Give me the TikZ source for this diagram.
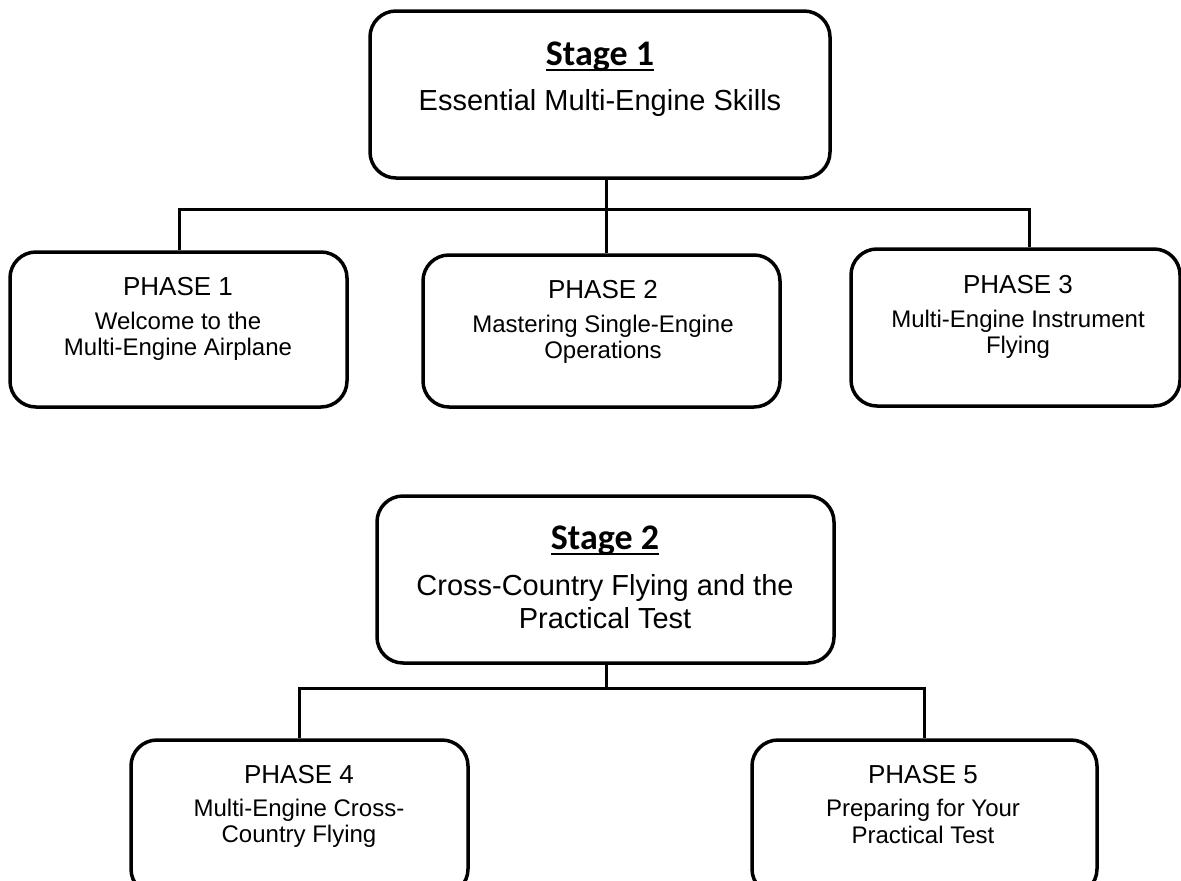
\documentclass[tikz,border=0pt]{standalone}
\usepackage{fontspec}
\setmainfont{Liberation Sans}
\newfontfamily\carlito{Carlito}
\begin{document}
\begin{tikzpicture}[x=1pt,y=-1pt,
  box/.style={draw=black,line width=3.5pt,rounded corners=26pt,inner sep=0pt,fill=white},
  conn/.style={draw=black,line width=3pt},
  title/.style={inner sep=0pt,anchor=base,font=\carlito\bfseries\fontsize{36}{40}\selectfont},
  sub/.style={inner sep=0pt,anchor=base,font=\fontsize{29}{33}\selectfont},
  plabel/.style={inner sep=0pt,anchor=base,font=\fontsize{26}{30}\selectfont},
  psub/.style={inner sep=0pt,anchor=base,font=\fontsize{24}{28}\selectfont},
  uline/.style={line width=2.5pt}]
\useasboundingbox (0,0) rectangle (1181,881);
\clip (0,0) rectangle (1181,881);
% Stage 1
\node[box,minimum width=460pt,minimum height=167pt] (s1) at (600,94.5) {};
\node[title] (s1t) at (600,65) {Stage 1};
\draw[uline] ([yshift=-5pt]s1t.base west) -- ([yshift=-5pt]s1t.base east);
\node[sub] (s1s) at (600,110) {Essential Multi-Engine Skills};
% Phases 1-3
\node[box,minimum width=337pt,minimum height=155pt] (p1) at (178.5,329.5) {};
\node[box,minimum width=357pt,minimum height=152pt] (p2) at (601.5,331) {};
\node[box,minimum width=329pt,minimum height=157pt] (p3) at (1015.5,327.5) {};
\node[plabel] (p1a) at (178,295) {PHASE 1};
\node[psub] (p1b) at (178,329) {Welcome to the};
\node[psub] (p1c) at (178,355) {Multi-Engine Airplane};
\node[plabel] (p2a) at (603,298) {PHASE 2};
\node[psub] (p2b) at (603,332) {Mastering Single-Engine};
\node[psub] (p2c) at (603,358) {Operations};
\node[plabel] (p3a) at (1018,293) {PHASE 3};
\node[psub] (p3b) at (1018,327) {Multi-Engine Instrument};
\node[psub] (p3c) at (1018,353) {Flying};
% connectors stage 1
\coordinate (j1) at (606,209);
\coordinate (bl1) at (179,209);
\coordinate (br1) at (1029,209);
\draw[conn] (s1.south -| j1) -- (j1);
\draw[conn] (p1.north -| bl1) -- (bl1) -- (br1) -- (br1 |- p3.north);
\draw[conn] (j1) -- (j1 |- p2.north);
% Stage 2
\node[box,minimum width=457pt,minimum height=167pt] (s2) at (605.5,579.5) {};
\node[title] (s2t) at (605,549) {Stage 2};
\draw[uline] ([yshift=-5pt]s2t.base west) -- ([yshift=-5pt]s2t.base east);
\node[sub] (s2s) at (605,595) {Cross-Country Flying and the};
\node[sub] (s2u) at (605,628) {Practical Test};
% Phases 4-5
\node[box,minimum width=337pt,minimum height=155pt] (p4) at (299.5,817.5) {};
\node[box,minimum width=345pt,minimum height=155pt] (p5) at (924.5,817.5) {};
\node[plabel] (p4a) at (299,783) {PHASE 4};
\node[psub] (p4b) at (299,816) {Multi-Engine Cross-};
\node[psub] (p4c) at (299,842) {Country Flying};
\node[plabel] (p5a) at (923,783) {PHASE 5};
\node[psub] (p5b) at (923,816) {Preparing for Your};
\node[psub] (p5c) at (923,843) {Practical Test};
% connectors stage 2
\coordinate (j2) at (606,688);
\draw[conn] (s2.south -| j2) -- (j2);
\draw[conn] (p4.north) -- (p4.north |- j2) -- (p5.north |- j2) -- (p5.north);
\end{tikzpicture}
\end{document}
